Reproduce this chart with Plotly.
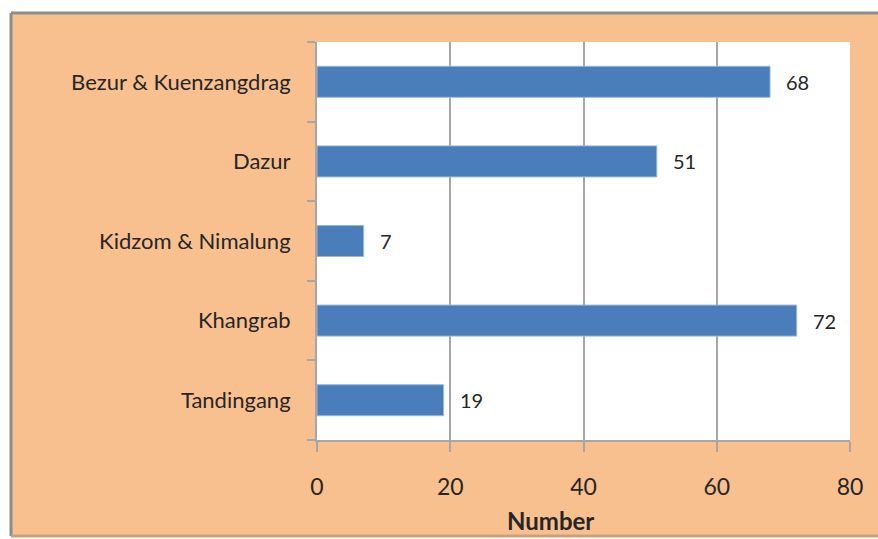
import plotly.graph_objects as go

categories = ["Bezur & Kuenzangdrag", "Dazur", "Kidzom & Nimalung", "Khangrab", "Tandingang"]
values = [68, 51, 7, 72, 19]
x_ticks = [0, 20, 40, 60, 80]
axis_title = "Number"

W, H = 878, 539
L, R, T, B = 317, 878 - 850, 42, 539 - 440
pw, ph = W - L - R, H - T - B

def px_x(x):
    return (x - L) / pw

def px_y(y):
    return (H - B - y) / ph

FONT = "Lato"
TXT = "#262626"
fig = go.Figure()
fig.add_trace(go.Bar(
    y=categories, x=values, orientation="h",
    marker=dict(color="#4A7EBB", line=dict(color="#9DB7DC", width=1)),
    width=0.39,
))
for c, v in zip(categories, values):
    fig.add_annotation(x=v, y=c, text=str(v), showarrow=False, xanchor="left",
                       xshift=14, font=dict(family=FONT, size=20, color=TXT))

fig.add_annotation(x=px_x(550), y=px_y(520), xref="paper", yref="paper", text="<b>%s</b>" % axis_title,
                   showarrow=False, xanchor="center", yanchor="middle",
                   font=dict(family=FONT, size=24, color=TXT))

fig.add_shape(type="rect", xref="paper", yref="paper",
              x0=px_x(11), x1=px_x(900), y0=px_y(536), y1=px_y(13),
              fillcolor="#F9C08F", line=dict(width=0), layer="below")
# frame edges (left, top) and soft bottom shadow
fig.add_shape(type="line", xref="paper", yref="paper", x0=px_x(11), x1=px_x(900), y0=px_y(13), y1=px_y(13),
              line=dict(color="#8C8C8C", width=3), layer="below")
fig.add_shape(type="line", xref="paper", yref="paper", x0=px_x(11), x1=px_x(11), y0=px_y(536), y1=px_y(13),
              line=dict(color="#8C8C8C", width=3), layer="below")
fig.add_shape(type="line", xref="paper", yref="paper", x0=px_x(11), x1=px_x(900), y0=px_y(536), y1=px_y(536),
              line=dict(color="#C9A07E", width=3), layer="below")
fig.add_shape(type="rect", xref="paper", yref="paper", x0=0, x1=1, y0=0, y1=1,
              fillcolor="white", line=dict(width=0), layer="below")

fig.update_layout(
    width=W, height=H,
    margin=dict(l=L, r=R, t=T, b=B, pad=0),
    paper_bgcolor="white", plot_bgcolor="white",
    showlegend=False,
    xaxis=dict(range=[0, 80], tickvals=x_ticks, showgrid=True, gridcolor="#A6A6A6", gridwidth=2,
               showline=True, linecolor="#A6A6A6", linewidth=2, ticks="outside", ticklen=10,
               tickcolor="#A6A6A6", tickwidth=2, zeroline=False, ticklabelstandoff=15,
               tickfont=dict(family=FONT, size=23, color=TXT)),
    yaxis=dict(categoryorder="array", categoryarray=categories[::-1], showline=True,
               linecolor="#A6A6A6", linewidth=2, ticks="outside", ticklen=8, tickcolor="#A6A6A6",
               tickwidth=2, tickson="boundaries", showgrid=False,
               tickfont=dict(family=FONT, size=22, color=TXT), ticklabelstandoff=20),
)
fig.write_html(
    "out.html",
    config={"displayModeBar": False},
    post_script="document.documentElement.style.overflow='hidden';"
                "document.body.style.margin='0';document.body.style.overflow='hidden';",
)
